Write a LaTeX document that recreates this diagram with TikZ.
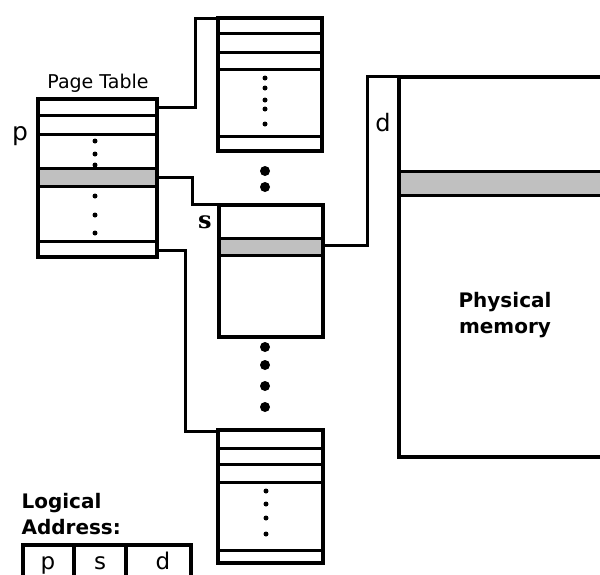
\documentclass[tikz,border=0pt]{standalone}
\usepackage{fontspec}
\usepackage{xcolor}
\setmainfont{DejaVu Sans}
\newfontfamily\segfont{DejaVu Serif}
\definecolor{bandgray}{RGB}{192,192,192}

\begin{document}
\begin{tikzpicture}[x=1pt,y=-1pt,
  box/.style={line width=3.5pt},
  sep/.style={line width=3pt},
  link/.style={line width=3pt},
  sdot/.style={circle,fill,inner sep=0pt,minimum size=5pt},
  bdot/.style={circle,fill,inner sep=0pt,minimum size=10pt}]
\useasboundingbox (0,0) rectangle (600,574);
\clip (0,0) rectangle (600,574);

% Page table
\fill[bandgray] (38,168) rectangle (157,186);
\foreach \y in {115,134,168,186,241}
  \draw[sep] (38,\y) -- (157,\y);
\draw[box] (38,99) rectangle (157,257);
\foreach \y in {141,154,165,196,215,233}
  \node[sdot] at (95,\y) {};
\node[font=\fontsize{19}{21}\selectfont] (ptlabel) at (98,83) {Page Table};
\node[font=\fontsize{25}{27}\selectfont] (plabel) at (20,136) {p};

% Segment tables
\foreach \y in {33,52,69,136}
  \draw[sep] (218,\y) -- (322,\y);
\draw[box] (218,18) rectangle (322,151);
\foreach \y in {78,88,100,109,124}
  \node[sdot] at (265,\y) {};

\fill[bandgray] (219,238) rectangle (323,255);
\draw[sep] (219,238) -- (323,238);
\draw[sep] (219,255) -- (323,255);
\draw[box] (219,205) rectangle (323,337);
\node[font=\fontsize{24}{26}\selectfont\segfont\bfseries] (slabel) at (205,222) {s};

\foreach \y in {448,464,482,550}
  \draw[sep] (218,\y) -- (323,\y);
\draw[box] (218,430) rectangle (323,563);
\foreach \y in {491,504,518,534}
  \node[sdot] at (266,\y) {};

% Large dots between segment tables
\foreach \y in {171,187,347,365,386,407}
  \node[bdot] at (265,\y) {};

% Physical memory
\fill[bandgray] (399,171) rectangle (620,195);
\draw[sep] (399,171) -- (620,171);
\draw[sep] (399,195) -- (620,195);
\draw[box] (399,77) rectangle (620,457);
\node[align=center,font=\fontsize{20}{26}\selectfont\bfseries] (physlabel) at (505,315)
  {Physical\\memory};
\node[font=\fontsize{24}{26}\selectfont] (dlabel) at (383,123) {d};

% Connectors
\coordinate (ptA) at (157,107);
\coordinate (ptB) at (157,177);
\coordinate (ptC) at (157,250);
\coordinate (segA) at (218,18);
\coordinate (segB) at (219,204);
\coordinate (segC) at (218,431);
\coordinate (segD) at (323,245);
\coordinate (physA) at (399,76);
\draw[link] (ptA) -- ++(38,0) |- (segA);
\draw[link] (ptB) -- ++(35,0) |- (segB);
\draw[link] (ptC) -- ++(28,0) |- (segC);
\draw[link] (segD) -- ++(44,0) |- (physA);

% Logical address
\node[right,font=\fontsize{20}{22}\selectfont\bfseries] (logA) at (18,503) {Logical};
\node[right,font=\fontsize{20}{22}\selectfont\bfseries] (logB) at (18,527) {Address:};
\draw[box] (23,545) rectangle (191,590);
\draw[box] (74,545) -- (74,590);
\draw[box] (126,545) -- (126,590);
\node[anchor=base,inner sep=0pt,font=\fontsize{23}{25}\selectfont] (fp) at (48,569) {p};
\node[anchor=base,inner sep=0pt,font=\fontsize{23}{25}\selectfont] (fs) at (100,569) {s};
\node[anchor=base,inner sep=0pt,font=\fontsize{23}{25}\selectfont] (fd) at (163,569) {d};
\end{tikzpicture}
\end{document}
